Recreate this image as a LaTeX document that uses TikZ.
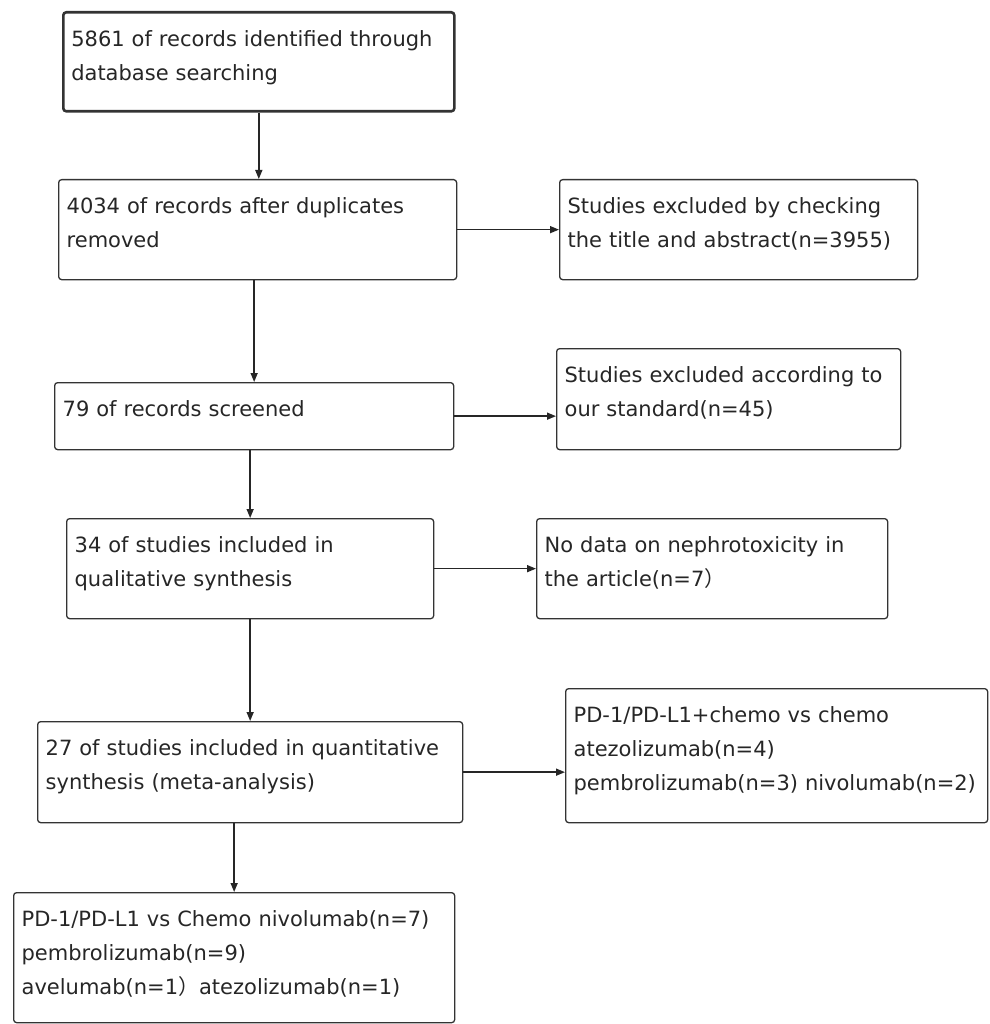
\documentclass[tikz,border=0pt]{standalone}
\usepackage{fontspec}
\setmainfont{DejaVu Sans}
\newfontfamily\cjk{Noto Sans CJK SC}
\usetikzlibrary{arrows.meta}

\tikzset{
  box/.style={draw=black!80, line width=1.3pt, rounded corners=3pt,
    anchor=north west, inner xsep=8pt, inner ysep=0pt, align=left,
    text height=34pt, text=black!85, font=\fontsize{21}{34}\selectfont},
  mainbox/.style={box, line width=2.6pt},
  arr/.style={draw=black!85, line width=1.5pt,
    -{Stealth[length=9pt,width=7pt,inset=0pt]}}
}

\begin{document}
\begin{tikzpicture}[x=1pt,y=-1pt]
  \useasboundingbox (0,0) rectangle (989,1024);

  % Main column
  \node[mainbox, text width=375pt, text depth=65pt] (b1) at (62,11)
    {5861 of records identified through\\database searching};
  \node[box, text width=382pt, text depth=66pt] (b2) at (58,179)
    {4034 of records after duplicates\\removed};
  \node[box, text width=383pt, text depth=33pt] (b3) at (54,382)
    {79 of records screened};
  \node[box, text width=351pt, text depth=66pt] (b4) at (66,518)
    {34 of studies included in\\qualitative synthesis};
  \node[box, text width=409pt, text depth=67pt] (b5) at (37,721)
    {27 of studies included in quantitative\\synthesis (meta-analysis)};
  \node[box, text width=425pt, text depth=96pt] (b6) at (13,892)
    {PD-1/PD-L1 vs Chemo nivolumab(n=7)\\pembrolizumab(n=9)\\avelumab(n=1{\cjk ）}atezolizumab(n=1)};

  % Exclusions
  \node[box, text width=342pt, text depth=66pt] (r2) at (559,179)
    {Studies excluded by checking\\the title and abstract(n=3955)};
  \node[box, text width=328pt, text depth=67pt] (r3) at (556,348)
    {Studies excluded according to\\our standard(n=45)};
  \node[box, text width=335pt, text depth=66pt] (r4) at (536,518)
    {No data on nephrotoxicity in\\the article(n=7{\cjk ）}};
  \node[box, text width=406pt, text depth=100pt] (r5) at (565,688)
    {PD-1/PD-L1+chemo vs chemo\\atezolizumab(n=4)\\pembrolizumab(n=3) nivolumab(n=2)};

  % Arrows down
  \draw[arr] (b1.south) -- (b1.south |- b2.north);
  \draw[arr] (b2.south -| b3.north) -- (b3.north);
  \draw[arr] (b3.south -| b4.north) -- (b4.north);
  \draw[arr] (b4.south -| b5.north) -- (b5.north);
  \draw[arr] (b5.south -| b6.north) -- (b6.north);

  % Arrows right
  \draw[arr] (b2.east) -- (b2.east -| r2.west);
  \draw[arr] (b3.east) -- (b3.east -| r3.west);
  \draw[arr] (b4.east) -- (b4.east -| r4.west);
  \draw[arr] (b5.east) -- (b5.east -| r5.west);
\end{tikzpicture}
\end{document}
